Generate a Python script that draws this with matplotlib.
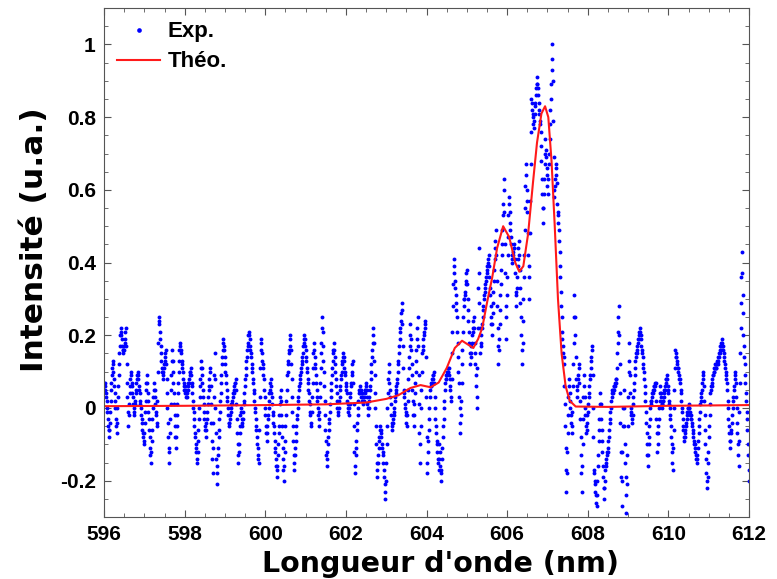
import numpy as np
import matplotlib
matplotlib.use("Agg")
import matplotlib.pyplot as plt
from matplotlib.ticker import MultipleLocator

# ==== DATA ====
# experimental spectrum, one value every 0.01 nm from 596 to 612 nm
exp_y = [
    0.07, 0.06, 0.07, 0.05, 0.04, 0.03, 0.02, 0.0, -0.01, -0.03, -0.05, -0.06, -0.08,
    -0.06, -0.04, -0.01, 0.02, 0.05, 0.07, 0.09, 0.11, 0.13,
    0.12, 0.10, 0.08, 0.06, 0.04, 0.02, 0.0, -0.03, -0.05, -0.07,
    -0.04, 0.0, 0.03, 0.06, 0.09, 0.12, 0.15, 0.17, 0.20, 0.22,
    0.21, 0.20, 0.19, 0.17, 0.16, 0.15, 0.16, 0.17, 0.16,
    0.18, 0.19, 0.21, 0.22,
    0.17, 0.12, 0.07, 0.03, -0.01, -0.05,
    -0.02, 0.01, 0.04, 0.06, 0.08, 0.10,
    0.09, 0.07, 0.06, 0.04, 0.03, 0.01, 0.0, -0.02,
    -0.01, 0.01, 0.02, 0.04, 0.05, 0.07, 0.08, 0.09, 0.10,
    0.09, 0.08, 0.06, 0.05, 0.04, 0.02, 0.01, 0.0, -0.02, -0.03, -0.04, -0.06, -0.07, -0.08, -0.09, -0.10,
    -0.07, -0.04, -0.01, 0.02, 0.05, 0.07, 0.09,
    0.07, 0.04, 0.02, -0.01, -0.03, -0.06, -0.08, -0.11, -0.13, -0.15,
    -0.12, -0.09, -0.06, -0.03, 0.0, 0.03, 0.05, 0.07,
    0.05, 0.03, 0.01, -0.01, -0.02, -0.04, -0.05,
    0.02, 0.10, 0.18, 0.25,
    0.24, 0.23, 0.21, 0.19, 0.17, 0.15, 0.13, 0.11, 0.10, 0.08,
    0.09, 0.10, 0.11, 0.12, 0.13, 0.14, 0.15, 0.16,
    0.12, 0.08, 0.04, 0.0, -0.04, -0.08, -0.12, -0.15,
    -0.11, -0.07, -0.03, 0.01, 0.05, 0.09, 0.13, 0.16,
    0.13, 0.10, 0.07, 0.04, 0.01, -0.02, -0.05, -0.08, -0.11,
    -0.08, -0.05, -0.02, 0.01, 0.04, 0.07, 0.10, 0.13, 0.16, 0.18,
    0.17, 0.16, 0.15, 0.13, 0.12, 0.11, 0.10, 0.08, 0.07, 0.06,
    0.05, 0.06, 0.04, 0.05, 0.03, 0.04, 0.03,
    0.04, 0.05, 0.06, 0.07, 0.07, 0.08, 0.09, 0.10, 0.10, 0.11,
    0.09, 0.07, 0.06, 0.04, 0.02, 0.0, -0.01, -0.03, -0.05, -0.07, -0.08, -0.10, -0.11, -0.12, -0.14, -0.15,
    -0.12, -0.09, -0.06, -0.03, 0.0, 0.03, 0.06, 0.08, 0.11, 0.13,
    0.11, 0.09, 0.07, 0.05, 0.03, 0.01, -0.01, -0.03, -0.05, -0.06, -0.08,
    -0.06, -0.04, -0.03, -0.01, 0.01, 0.03, 0.05, 0.06, 0.08, 0.10, 0.11,
    0.06, 0.01, -0.04, -0.09, -0.14, -0.18,
    -0.11, -0.04, 0.03, 0.09, 0.15,
    0.08, 0.0, -0.07, -0.14, -0.21,
    -0.18, -0.16, -0.13, -0.11, -0.08, -0.06, -0.03, -0.01, 0.02, 0.04, 0.07, 0.09, 0.12, 0.14, 0.16, 0.18, 0.19,
    0.17, 0.16, 0.14, 0.12, 0.10, 0.09, 0.07, 0.05, 0.03, 0.02, 0.0, -0.02, -0.04, -0.05,
    -0.04, -0.03, -0.02, -0.01, 0.0, 0.01, 0.01, 0.02, 0.03, 0.04, 0.04, 0.05,
    0.06, 0.07, 0.07, 0.08,
    0.05, 0.01, -0.03, -0.07, -0.10, -0.13, -0.15,
    -0.12, -0.10, -0.07, -0.05, -0.02, 0.0,
    -0.01, -0.03, -0.04, -0.05,
    -0.03, -0.01, 0.01, 0.02, 0.04, 0.06, 0.08, 0.09, 0.11, 0.13, 0.14, 0.16, 0.17, 0.18, 0.20, 0.21,
    0.20, 0.19, 0.17, 0.16, 0.15, 0.14, 0.12, 0.11, 0.10,
    0.08, 0.07, 0.05, 0.04, 0.02, 0.0, -0.01, -0.03, -0.05, -0.06, -0.08, -0.10, -0.11, -0.13, -0.14, -0.15,
    -0.06, 0.03, 0.11, 0.19,
    0.18, 0.16, 0.15, 0.13, 0.12, 0.11, 0.09, 0.08,
    0.05, 0.03, 0.0, -0.02, -0.05, -0.07, -0.09,
    -0.07, -0.05, -0.03, -0.02, 0.0, 0.02, 0.04, 0.05, 0.07, 0.08,
    0.06, 0.04, 0.03, 0.01, -0.01, -0.02, -0.04, -0.05,
    -0.07, -0.09, -0.11, -0.12, -0.14, -0.16, -0.17, -0.19,
    -0.16, -0.13, -0.10, -0.07, -0.05, -0.02, 0.01, 0.03, 0.05,
    0.02, -0.02, -0.05, -0.08, -0.11, -0.14, -0.17, -0.20,
    -0.16, -0.12, -0.09, -0.05, -0.02, 0.02, 0.05, 0.09,
    0.10, 0.12, 0.13, 0.15, 0.16, 0.17, 0.19, 0.20,
    0.16, 0.12, 0.08, 0.03, -0.01, -0.05, -0.09, -0.13, -0.17,
    -0.15, -0.13, -0.11, -0.09, -0.07, -0.05, -0.03, -0.02, 0.0, 0.02, 0.03, 0.05,
    0.06, 0.07, 0.08, 0.09, 0.10, 0.11, 0.12, 0.13, 0.14, 0.15, 0.17, 0.18, 0.19, 0.20,
    0.19, 0.17, 0.16, 0.14, 0.13, 0.11, 0.10,
    0.08, 0.07, 0.05, 0.04, 0.02, 0.01, -0.01, -0.02, -0.04, -0.05,
    -0.01, 0.03, 0.07, 0.11, 0.15, 0.18,
    0.16, 0.14, 0.12, 0.11, 0.09, 0.07, 0.05, 0.03, 0.02, 0.0, -0.02, -0.03, -0.05,
    -0.01, 0.03, 0.07, 0.11, 0.15, 0.18, 0.22, 0.25,
    0.21, 0.17, 0.13, 0.10, 0.06, 0.02, -0.02, -0.06, -0.09, -0.13, -0.16,
    -0.14, -0.12, -0.10, -0.08, -0.06, -0.04, -0.03, -0.01, 0.01, 0.03,
    0.05, 0.07, 0.09, 0.11, 0.13, 0.15, 0.16, 0.18,
    0.16, 0.14, 0.12, 0.10, 0.08, 0.06, 0.04, 0.02, 0.0, -0.02,
    -0.01, 0.0, 0.02, 0.03, 0.05, 0.06, 0.08, 0.09, 0.10, 0.12, 0.13, 0.14, 0.15,
    0.14, 0.13, 0.11, 0.10, 0.09, 0.07, 0.06, 0.05, 0.04, 0.02, 0.01, 0.0, -0.01, -0.02,
    0.0, 0.01, 0.03, 0.04, 0.06, 0.07, 0.09, 0.10, 0.12, 0.13,
    0.07, 0.01, -0.05, -0.12, -0.18,
    -0.16, -0.13, -0.11, -0.09, -0.06, -0.04, -0.02, 0.0, 0.02, 0.04,
    0.05, 0.06, 0.05, 0.04, 0.05, 0.03, 0.04, 0.02, 0.03, 0.01, 0.03, 0.02,
    0.03, 0.04, 0.05, 0.05, 0.06, 0.07,
    0.05, 0.03, 0.01, 0.0, -0.02,
    0.0, 0.02, 0.03, 0.05, 0.06,
    0.08, 0.10, 0.12, 0.14, 0.16, 0.18, 0.20, 0.22,
    0.18, 0.13, 0.09, 0.04, 0.0,
    -0.05, -0.10, -0.15, -0.19,
    -0.17, -0.15, -0.13, -0.11, -0.09, -0.08, -0.06, -0.05,
    -0.06, -0.07, -0.08, -0.10, -0.11, -0.12, -0.13,
    -0.15, -0.17, -0.19, -0.21, -0.23, -0.25,
    -0.20, -0.15, -0.10, -0.05, 0.0, 0.04, 0.08, 0.12,
    0.10, 0.07, 0.05, 0.03, 0.01, -0.02, -0.04, -0.06,
    -0.05, -0.04, -0.03, -0.02, -0.01, 0.0, 0.02, 0.03, 0.04, 0.05, 0.06, 0.07, 0.08,
    0.10, 0.12, 0.13, 0.15, 0.17, 0.19, 0.21, 0.22, 0.24, 0.26, 0.27, 0.29,
    0.23, 0.17, 0.11, 0.05,
    0.04, 0.03, 0.01, 0.0, -0.01, -0.02, -0.04, -0.05,
    -0.02, 0.02, 0.05, 0.08, 0.11, 0.14, 0.17, 0.20, 0.23,
    0.19, 0.16, 0.12, 0.09, 0.05, 0.02, -0.02, -0.05,
    -0.02, 0.01, 0.04, 0.07, 0.10, 0.13, 0.16, 0.19, 0.22, 0.25,
    0.17, 0.09, 0.01, -0.07, -0.15,
    -0.10, -0.05, 0.0, 0.05, 0.10, 0.15,
    0.16, 0.17, 0.19, 0.20, 0.21, 0.22, 0.23, 0.24,
    0.14, 0.03, -0.08, -0.18,
    -0.15, -0.12, -0.09, -0.06, -0.03, 0.0, 0.03, 0.05,
    0.06, 0.06, 0.07, 0.07, 0.08, 0.08, 0.09, 0.09, 0.10,
    0.07, 0.03, 0.0, -0.03,
    -0.05, -0.07, -0.09, -0.10, -0.12, -0.14, -0.15, -0.17,
    -0.14, -0.10, -0.12, -0.16, -0.18, -0.20,
    -0.17, -0.14, -0.11, -0.08, -0.05, -0.03, 0.0, 0.02, 0.05, 0.07,
    0.08, 0.08, 0.09, 0.09, 0.10, 0.10, 0.10, 0.11, 0.11,
    0.09, 0.08, 0.06, 0.05, 0.03, 0.02,
    0.08, 0.15, 0.21, 0.28, 0.34, 0.41,
    0.39, 0.37, 0.35, 0.33, 0.31, 0.29, 0.27, 0.25,
    0.21, 0.18, 0.14, 0.10, 0.07, 0.03, 0.0, -0.04, -0.07,
    -0.02, 0.02, 0.07, 0.12, 0.16, 0.21, 0.25, 0.30,
    0.28, 0.30, 0.31, 0.32, 0.34, 0.35, 0.37, 0.38,
    0.34, 0.30, 0.27, 0.24, 0.21, 0.18, 0.15, 0.12,
    0.14, 0.15, 0.17, 0.18, 0.20, 0.21, 0.22, 0.24, 0.25,
    0.22, 0.18, 0.15, 0.12, 0.09, 0.06, 0.03, 0.0,
    0.11, 0.22, 0.33, 0.44,
    0.37, 0.29, 0.22, 0.15,
    0.17, 0.18, 0.20, 0.22, 0.23, 0.25, 0.27, 0.28, 0.30,
    0.31, 0.32, 0.33, 0.34, 0.35, 0.36, 0.37, 0.38, 0.39, 0.40, 0.41, 0.42,
    0.39, 0.36, 0.33, 0.31, 0.28, 0.25, 0.23, 0.20,
    0.23, 0.26, 0.29, 0.32, 0.35, 0.38, 0.41, 0.44, 0.46, 0.49,
    0.42, 0.35, 0.28, 0.22, 0.17, 0.12,
    0.16, 0.19, 0.23, 0.27, 0.31, 0.34, 0.38, 0.42, 0.45, 0.49, 0.53, 0.56, 0.60, 0.63,
    0.54, 0.45, 0.37, 0.28, 0.19,
    0.25, 0.31, 0.36, 0.42, 0.47, 0.53, 0.58,
    0.56, 0.54, 0.51, 0.49, 0.47, 0.45, 0.42, 0.40,
    0.41, 0.42, 0.43, 0.44, 0.44, 0.45,
    0.41, 0.37, 0.32, 0.28,
    0.31, 0.33, 0.36, 0.39, 0.41, 0.44, 0.46,
    0.42, 0.38, 0.33, 0.29, 0.25, 0.20, 0.16, 0.12,
    0.18, 0.24, 0.30, 0.36, 0.42, 0.49, 0.55, 0.61, 0.67,
    0.64, 0.60, 0.57, 0.54,
    0.48, 0.42, 0.36, 0.30,
    0.39, 0.48, 0.57, 0.67, 0.76, 0.85,
    0.84, 0.82, 0.81, 0.80, 0.78, 0.77,
    0.79, 0.81, 0.83, 0.84, 0.86, 0.88, 0.89, 0.91,
    0.89, 0.88, 0.86, 0.84, 0.82, 0.81, 0.79, 0.78, 0.76,
    0.72, 0.68, 0.63, 0.59, 0.55, 0.51,
    0.55, 0.59, 0.63, 0.67, 0.70, 0.74,
    0.71, 0.69, 0.66, 0.64, 0.61, 0.59,
    0.63, 0.67, 0.70, 0.74, 0.78, 0.82, 0.85, 0.89, 0.93, 0.96, 1.00,
    0.90, 0.79, 0.69, 0.58,
    0.60, 0.61, 0.63, 0.64, 0.66, 0.67,
    0.62, 0.56,
    0.54, 0.53, 0.51, 0.49,
    0.46, 0.43, 0.39, 0.36,
    0.32, 0.28, 0.25, 0.21,
    0.19, 0.17, 0.15, 0.14, 0.12,
    0.06, 0.01, -0.05, -0.11, -0.17, -0.23,
    -0.18, -0.12, -0.07, -0.02, 0.03, 0.08,
    0.06, 0.04, 0.02, 0.0, -0.02, -0.04, -0.05, -0.07,
    -0.01, 0.06, 0.12, 0.18, 0.25, 0.31,
    0.25, 0.20, 0.14, 0.08, 0.03,
    0.05, 0.06, 0.08, 0.09, 0.11, 0.12,
    0.07, 0.02, -0.03, -0.08, -0.13, -0.18, -0.23,
    -0.16, -0.10, -0.03, 0.03, 0.09,
    0.06, 0.03, 0.0, -0.02, -0.05, -0.07,
    -0.06, -0.04, -0.02, -0.01, 0.01, 0.03, 0.04, 0.06, 0.08, 0.09, 0.11, 0.13, 0.14, 0.16, 0.17,
    0.09, 0.0, -0.08, -0.17,
    -0.18, -0.20, -0.21, -0.23, -0.24, -0.26, -0.27,
    -0.24, -0.20, -0.16, -0.13, -0.09, -0.06, -0.03, 0.01, 0.04,
    0.01, -0.03, -0.06, -0.09, -0.12, -0.16, -0.19, -0.22, -0.25,
    -0.22, -0.20, -0.17, -0.15,
    -0.16, -0.14, -0.13, -0.12, -0.12, -0.11,
    -0.09, -0.08, -0.06, -0.04, -0.03, -0.01, 0.0, 0.02, 0.03, 0.05,
    0.04, 0.05, 0.04, 0.06, 0.05, 0.06, 0.07, 0.06, 0.07, 0.08, 0.08,
    0.11, 0.15, 0.18, 0.21, 0.25, 0.28,
    0.20, 0.12, 0.04, -0.04, -0.12, -0.19, -0.27,
    -0.20, -0.12, -0.05, 0.0, 0.05,
    0.0, -0.05, -0.10, -0.15, -0.19, -0.24, -0.29,
    -0.21, -0.13, -0.05, 0.03, 0.10, 0.18,
    0.13, 0.09, 0.04, 0.0,
    -0.01, -0.02, -0.03, -0.04,
    -0.02, 0.01, 0.03, 0.05, 0.07, 0.09, 0.11, 0.13,
    0.14, 0.15, 0.15, 0.16, 0.17, 0.18, 0.19, 0.19, 0.20, 0.21, 0.22,
    0.21, 0.20, 0.19, 0.17, 0.16, 0.15, 0.14, 0.12, 0.11, 0.10,
    0.08, 0.06, 0.04, 0.02,
    -0.01, -0.04, -0.07, -0.10, -0.13, -0.16,
    -0.13, -0.10, -0.08, -0.05, -0.03, 0.0,
    0.01, 0.02, 0.02, 0.03, 0.04, 0.04, 0.05, 0.05, 0.06, 0.06, 0.06, 0.07, 0.07,
    0.02, -0.03, -0.07, -0.12,
    -0.10, -0.07, -0.05, -0.03, 0.0, 0.02, 0.04, 0.06,
    0.04, 0.03, 0.01, 0.0,
    0.01, 0.02, 0.02, 0.03, 0.04, 0.05, 0.05, 0.06, 0.07, 0.08, 0.08, 0.09,
    0.08, 0.06, 0.05, 0.04, 0.02, 0.01, 0.0, -0.02, -0.03,
    -0.05, -0.08, -0.10, -0.12, -0.15, -0.17,
    -0.11, -0.06, 0.0, 0.05, 0.11, 0.16,
    0.15, 0.14, 0.14, 0.13, 0.12, 0.11, 0.11, 0.10, 0.09, 0.08, 0.08, 0.07,
    0.05, 0.04, 0.02, 0.0, -0.01, -0.03, -0.05, -0.06, -0.08, -0.09,
    -0.08, -0.07, -0.06, -0.05, -0.04, -0.03, -0.02, -0.01, 0.0, 0.0, 0.01,
    0.0, 0.0, -0.01, -0.02, -0.02, -0.03, -0.03, -0.04,
    -0.05, -0.06, -0.07, -0.08, -0.09, -0.10, -0.10, -0.11, -0.12, -0.13, -0.14, -0.14, -0.15,
    -0.13, -0.11, -0.09, -0.07, -0.05, -0.03, -0.01, 0.01,
    0.02, 0.03, 0.04, 0.05, 0.07, 0.08, 0.09, 0.10,
    0.06, 0.02, -0.02, -0.06, -0.10, -0.14, -0.18, -0.20, -0.22,
    -0.19, -0.15, -0.12, -0.08, -0.05, -0.02, 0.01, 0.04,
    0.05, 0.06, 0.06, 0.07, 0.08, 0.09, 0.09, 0.10,
    0.11, 0.10, 0.11, 0.12, 0.11, 0.12, 0.11, 0.12,
    0.13, 0.12, 0.14, 0.13, 0.15, 0.14, 0.16, 0.15, 0.17, 0.16, 0.18, 0.17, 0.18, 0.19, 0.17, 0.16, 0.15,
    0.14, 0.13, 0.12, 0.11, 0.10, 0.09, 0.08, 0.07,
    0.05, 0.02, 0.0, -0.03, -0.05, -0.07, -0.09, -0.11,
    -0.09, -0.07, -0.06, -0.04, -0.02, 0.0, 0.02, 0.03, 0.05, 0.06, 0.08, 0.09, 0.10,
    0.07, 0.03, 0.0, -0.04, -0.07, -0.10, -0.13, -0.16,
    -0.09, -0.01, 0.07, 0.15, 0.22, 0.29, 0.36, 0.43,
    0.37, 0.31, 0.26, 0.20,
    0.17, 0.14, 0.12, 0.09,
    0.07, 0.04, 0.02, -0.01, -0.03,
    -0.06, -0.10, -0.13, -0.17, -0.20,
]

# theoretical spectrum (red line)
theo_x = [596.0, 598.0, 600.0, 601.5, 602.5, 603.0, 603.3, 603.6, 603.85, 604.1,
          604.3, 604.5, 604.7, 604.88, 605.02, 605.16, 605.28, 605.38, 605.5, 605.63,
          605.75, 605.9, 606.05, 606.2, 606.3, 606.4, 606.52, 606.64, 606.74, 606.85,
          606.94, 607.02, 607.1, 607.18, 607.26, 607.35, 607.45, 607.55, 607.7, 608.5,
          610.0, 612.0]
theo_y = [0.005, 0.006, 0.008, 0.010, 0.015, 0.025, 0.035, 0.055, 0.063, 0.057,
          0.07, 0.11, 0.165, 0.185, 0.175, 0.165, 0.19, 0.22, 0.29, 0.36,
          0.44, 0.50, 0.47, 0.40, 0.375, 0.39, 0.48, 0.62, 0.73, 0.81,
          0.83, 0.80, 0.68, 0.50, 0.30, 0.15, 0.06, 0.02, 0.004, 0.003,
          0.006, 0.008]

exp_x = np.linspace(596, 612, len(exp_y))

# ==== PLOT ====
plt.rcParams["font.family"] = ["Liberation Sans", "DejaVu Sans"]
plt.rcParams["font.weight"] = "bold"

fig = plt.figure(figsize=(7.77, 5.79), dpi=100)
ax = fig.add_axes([0.134, 0.107, 0.830, 0.879])

ax.plot(exp_x, exp_y, linestyle="none", marker="o", markersize=2.8,
        color="#0000ff", markeredgewidth=0, label="Exp.")
ax.plot(theo_x, theo_y, color="#ff1a1a", linewidth=1.5, label="Théo.")

ax.set_xlim(596, 612)
ax.set_ylim(-0.3, 1.1)
ax.xaxis.set_major_locator(MultipleLocator(2))
ax.xaxis.set_minor_locator(MultipleLocator(0.5))
ax.yaxis.set_minor_locator(MultipleLocator(0.05))
ax.set_yticks([-0.2, 0, 0.2, 0.4, 0.6, 0.8, 1])
ax.set_yticklabels(["-0.2", "0", "0.2", "0.4", "0.6", "0.8", "1"])

ax.tick_params(which="both", direction="in", top=True, right=True,
               labelsize=15, color="#555555")
ax.tick_params(which="major", length=5, width=0.8, pad=6)
ax.tick_params(which="minor", length=3, width=0.6)
for sp in ax.spines.values():
    sp.set_color("#555555")
    sp.set_linewidth(0.8)

ax.set_xlabel("Longueur d'onde (nm)", fontsize=20.5, fontweight="bold",
              family="DejaVu Sans")
ax.set_ylabel("Intensité (u.a.)", fontsize=22.5, fontweight="bold",
              family="DejaVu Sans")
ax.xaxis.set_label_coords(0.522, -0.065)
ax.yaxis.set_label_coords(-0.085, 0.545)

leg = ax.legend(loc="upper left", frameon=False, fontsize=16, handlelength=1.9,
                handletextpad=0.35, borderaxespad=0.2, labelspacing=0.4,
                markerscale=1.2)
for t in leg.get_texts():
    t.set_fontweight("bold")

fig.savefig("out.png", dpi=100)
